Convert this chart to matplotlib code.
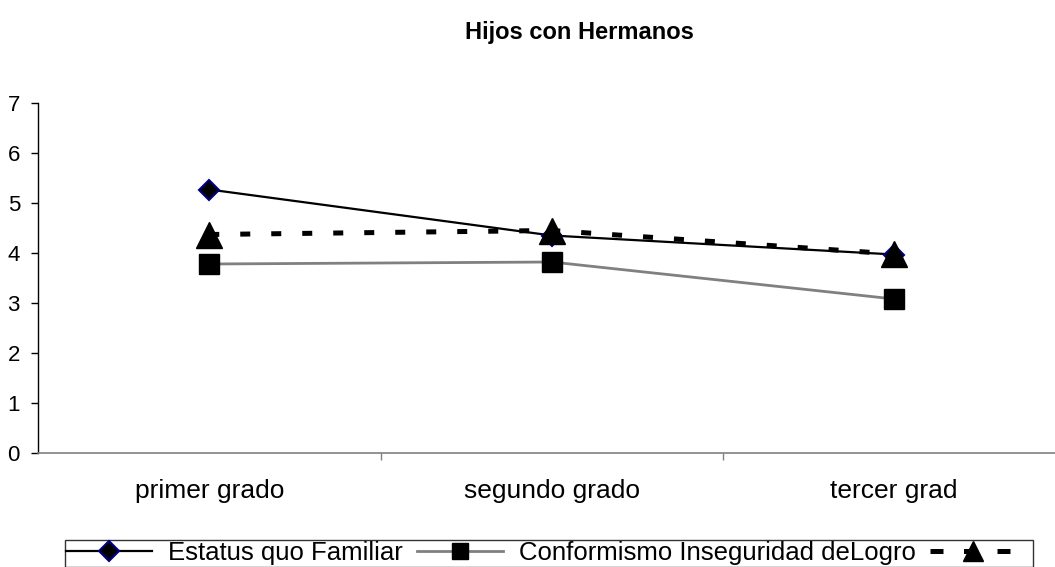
import matplotlib
matplotlib.use("Agg")
import matplotlib.pyplot as plt
from matplotlib.lines import Line2D

plt.rcParams['font.family'] = ['Liberation Sans', 'DejaVu Sans']

categories = ["primer grado", "segundo grado", "tercer grad"]
estatus = [5.27, 4.35, 3.97]
conformismo = [3.78, 3.82, 3.08]
serie3 = [4.37, 4.45, 3.98]
labels = ["Estatus quo Familiar", "Conformismo Inseguridad deLogro", ""]
title = "Hijos con Hermanos"

W, H = 1055, 567
fig = plt.figure(figsize=(W / 100, H / 100), dpi=100)
x0, x1 = 38, 1065.5
y0, y1 = 453, 103
ax = fig.add_axes([x0 / W, (H - y0) / H, (x1 - x0) / W, (y0 - y1) / H])

xs = list(range(len(categories)))
l1, = ax.plot(xs, estatus, color='black', lw=1.6, marker='D', ms=10,
              mfc='black', mec='#000080', mew=1.5, zorder=3)
l2, = ax.plot(xs, conformismo, color='#808080', lw=2, marker='s', ms=14.5,
              mfc='black', mec='black', zorder=3)
l3, = ax.plot(xs, serie3, color='black', lw=3.6, ls=(0, (2.0, 4.2)),
              dash_capstyle='butt', marker='^', ms=19, mfc='black', mec='black',
              zorder=4)

ax.set_xlim(-0.5, len(categories) - 0.5)
ax.set_ylim(0, 7)
ax.set_yticks(range(0, 8))
ax.set_xticks(xs)
ax.set_xticklabels(categories, fontsize=19)
ax.set_xticks([i + 0.5 for i in range(len(categories) - 1)], minor=True)
ax.tick_params(axis='x', which='major', length=0, pad=19)
ax.tick_params(axis='x', which='minor', length=5, color='#808080', width=1)
ax.tick_params(axis='y', length=5, width=1, pad=8, labelsize=16)
for s in ['top', 'right']:
    ax.spines[s].set_visible(False)
ax.spines['bottom'].set_color('#808080')
ax.spines['bottom'].set_linewidth(1.2)
ax.spines['left'].set_color('black')
ax.spines['left'].set_linewidth(1)

fig.text(579 / W, 1 - 32 / H, title, ha='center', va='center',
         fontsize=17, fontweight='bold')

# legend proxies (same styles as the plotted lines)
p1 = Line2D([], [], color='black', lw=1.6, marker='D', ms=10,
            mfc='black', mec='#000080', mew=1.5)
p2 = Line2D([], [], color='#808080', lw=2, marker='s', ms=12,
            mfc='black', mec='black')
p3 = Line2D([], [], color='black', lw=3.6, ls=(0, (2.6, 4.1)),
            dash_capstyle='butt', marker='^', ms=15, mfc='black', mec='black')

leg = fig.legend([p1, p2, p3], labels, ncol=3, loc='upper left',
                 bbox_to_anchor=(65 / W, 1 - 540 / H), fontsize=18.5,
                 frameon=True, fancybox=False, edgecolor='black',
                 handlelength=3.35, handletextpad=0.62, columnspacing=0.55,
                 borderpad=0.05, borderaxespad=0)
leg.get_frame().set_linewidth(1)

fig.savefig("out.png", dpi=100)
